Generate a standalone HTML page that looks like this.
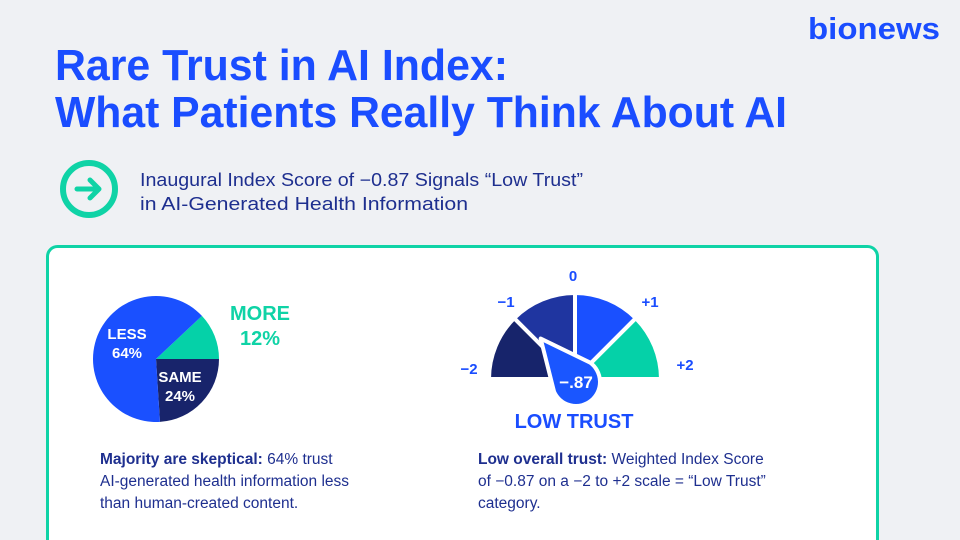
<!DOCTYPE html>
<html><head><meta charset="utf-8"><style>
html,body{margin:0;padding:0;background:#eff1f4;}
svg{display:block;font-family:"Liberation Sans",sans-serif;}
</style></head><body>
<svg width="960" height="540" viewBox="0 0 960 540">
<rect x="0" y="0" width="960" height="540" fill="#eff1f4"/>
<text x="808" y="39" font-size="31" font-weight="bold" fill="#1a4dff" textLength="132" lengthAdjust="spacingAndGlyphs">bionews</text>
<text x="55" y="80" font-size="44" font-weight="bold" fill="#1a4dff" textLength="453" lengthAdjust="spacingAndGlyphs">Rare Trust in AI Index:</text>
<text x="55" y="127" font-size="44" font-weight="bold" fill="#1a4dff" textLength="732" lengthAdjust="spacingAndGlyphs">What Patients Really Think About AI</text>
<g>
<circle cx="89" cy="189" r="26" fill="none" stroke="#0fd3a6" stroke-width="6"/>
<path d="M77 189 H99 M90 180 L99 189 L90 198" fill="none" stroke="#0fd3a6" stroke-width="5" stroke-linecap="round" stroke-linejoin="round"/>
</g>
<text x="140" y="186" font-size="18" fill="#1e2f8f" textLength="443" lengthAdjust="spacingAndGlyphs">Inaugural Index Score of −0.87 Signals “Low Trust”</text>
<text x="140" y="210" font-size="18" fill="#1e2f8f" textLength="328" lengthAdjust="spacingAndGlyphs">in AI-Generated Health Information</text>
<rect x="47.5" y="246.5" width="830" height="320" rx="10" fill="#fff" stroke="#0fd3a6" stroke-width="3"/>
<g id="pie"></g>
<text x="260" y="320" font-size="20" font-weight="bold" fill="#0fd3a6" text-anchor="middle">MORE</text>
<text x="260" y="345" font-size="20" font-weight="bold" fill="#0fd3a6" text-anchor="middle">12%</text>
<g id="gauge"></g>
<text x="574" y="428" font-size="20" font-weight="bold" fill="#1a4dff" text-anchor="middle">LOW TRUST</text>
<g font-size="15.5" fill="#1e2f8f">
<text x="100" y="464"><tspan font-weight="bold">Majority are skeptical:</tspan> 64% trust</text>
<text x="100" y="486">AI-generated health information less</text>
<text x="100" y="508">than human-created content.</text>
</g>
<g font-size="15.5" fill="#1e2f8f">
<text x="478" y="464"><tspan font-weight="bold">Low overall trust:</tspan> Weighted Index Score</text>
<text x="478" y="486">of −0.87 on a −2 to +2 scale = “Low Trust”</text>
<text x="478" y="508">category.</text>
</g>
</svg>
<script>
const pieLabels=["MORE","SAME","LESS"];
const pieValues=[12,24,64];
const pieColors=["#05d1a8","#18246b","#1a50ff"];
const gaugeTicks=["-2","-1","0","+1","+2"];
const gaugeColors=["#17246b","#1f35a0","#1a50ff","#05d1a8"];
const indexScore=[-0.87];
const NS="http://www.w3.org/2000/svg";
function mk(t,a){const e=document.createElementNS(NS,t);for(const k in a)e.setAttribute(k,a[k]);return e;}
const pie=document.getElementById('pie');
const pcx=156,pcy=359,pr=63;
const tot=pieValues.reduce((a,b)=>a+b,0);
const pt=(cx,cy,r,a)=>[cx+r*Math.cos(a*Math.PI/180),cy-r*Math.sin(a*Math.PI/180)];
let cur=pieValues[0]/tot*360;
pieValues.forEach((v,i)=>{
  const sweep=v/tot*360;
  const s=cur, e=cur-sweep;
  const p1=pt(pcx,pcy,pr,s),p2=pt(pcx,pcy,pr,e);
  const large=sweep>180?1:0;
  const path=mk('path',{d:`M${pcx} ${pcy} L${p1[0]} ${p1[1]} A${pr} ${pr} 0 ${large} 1 ${p2[0]} ${p2[1]} Z`,fill:pieColors[i]});
  
  
  pie.appendChild(path);
  cur=e;
});
function addText(g,x,y,t,size,fill,name){const e=mk('text',{x:x,y:y,'font-size':size,'font-weight':'bold',fill:fill,'text-anchor':'middle'});e.textContent=t;


g.appendChild(e);}
addText(pie,127,339,'LESS',15,'#fff','less-label');
addText(pie,127,358,pieValues[2]+'%',15,'#fff','less-value');
addText(pie,180,382,'SAME',15,'#fff','same-label');
addText(pie,180,401,pieValues[1]+'%',15,'#fff','same-value');
const g=document.getElementById('gauge');
const gcx=575,gcy=379,gr=86;
const minV=-2,maxV=2;
const vAng=v=>180-(v-minV)/(maxV-minV)*180;
for(let i=0;i<4;i++){
  const s=vAng(minV+i),e=vAng(minV+i+1);
  const p1=pt(gcx,gcy,gr,s),p2=pt(gcx,gcy,gr,e);
  const w=mk('path',{d:`M${gcx} ${gcy} L${p1[0]} ${p1[1]} A${gr} ${gr} 0 0 1 ${p2[0]} ${p2[1]} Z`,fill:gaugeColors[i],stroke:'#fff','stroke-width':4,'stroke-linejoin':'round'});
  
  
  g.appendChild(w);
}
const tickPos=[[469,374],[506,307],[573,281],[650,307],[685,370]];
gaugeTicks.forEach((t,i)=>{
  addText(g,tickPos[i][0],tickPos[i][1],t.replace('-','−'),15,'#1a4dff','gauge-tick-'+i);
});
const na=vAng(indexScore[0]);
const nb=[gcx+1,gcy+3],br=24;
const tip=pt(nb[0],nb[1],br+32,na);
const l=pt(nb[0],nb[1],br,na+75),r=pt(nb[0],nb[1],br,na-75);
const needle=mk('path',{d:`M${tip[0]} ${tip[1]} L${l[0]} ${l[1]} A${br} ${br} 0 1 0 ${r[0]} ${r[1]} Z`,fill:'#1a56ff',stroke:'#fff','stroke-width':4,'stroke-linejoin':'round'});


g.appendChild(needle);
addText(g,nb[0],nb[1]+6,'−.'+String(Math.round(Math.abs(indexScore[0])*100)),17,'#fff','needle-value');
</script>
</body></html>
